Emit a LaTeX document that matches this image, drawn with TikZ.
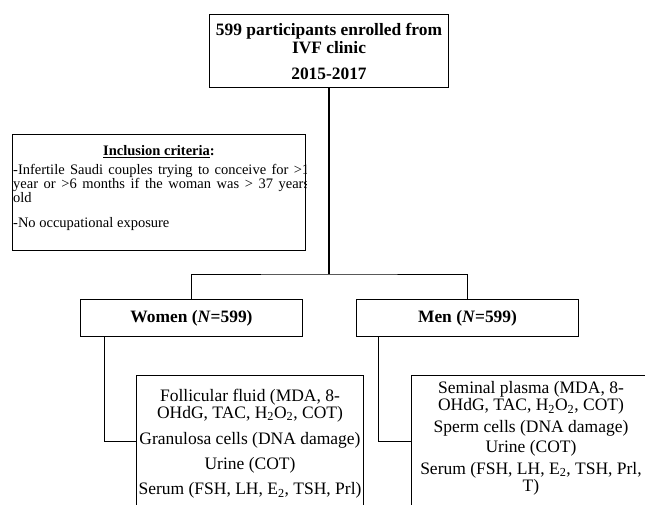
\documentclass[tikz,border=0pt]{standalone}
\usepackage{fontspec}
\setmainfont{Liberation Serif}
\usetikzlibrary{positioning}

\begin{document}
\begin{tikzpicture}[x=1pt,y=-1pt,
    box/.style={draw, line width=1pt, inner sep=0pt, anchor=north west},
    link/.style={draw, line width=0.8pt},
    bigbold/.style={font=\bfseries\fontsize{17.4}{18}\selectfont}]
    \useasboundingbox (0,0) rectangle (645,505);

 % Enrolment box
    \node[box, bigbold, minimum width=239pt, minimum height=73pt, align=center] (enrol) at (209,14)
        {599 participants enrolled from\\IVF clinic\\[8pt]2015-2017};

 % Inclusion criteria box (text runs a little past its right side)
    \node[box, minimum width=293pt, minimum height=116pt] (incl) at (12,134) {};
    \node[anchor=north, inner sep=0pt, font=\bfseries\fontsize{14.5}{12.5}\selectfont] (incltitle)
        at ([yshift=-11pt]incl.north) {\underline{Inclusion criteria}:};
    \begin{scope}
       \clip (incl.north west) rectangle (incl.south east); % hide the overflow
       \node[anchor=north west, inner sep=0pt, text width=296pt, align=justify,
             font=\fontsize{14.5}{12.5}\selectfont] (incltext) at ([xshift=1pt,yshift=-30pt]incl.north west)
           {-Infertile Saudi couples trying to conceive for >1 year or >6 months if the woman was > 37 years\linebreak old\\[12pt]-No occupational exposure};
    \end{scope}

 % Women and men
    \node[box, bigbold, minimum width=222pt, minimum height=37pt] (women) at (80,299) {Women (\textit{N}=599)};
    \node[box, bigbold, minimum width=222pt, minimum height=37pt] (men) at (356,299) {Men (\textit{N}=599)};

 % Sample boxes (cut by the lower edge)
    \node[box, minimum width=227pt, minimum height=132pt] (womsmp) at (136,375) {};
    \node[box, minimum width=239pt, minimum height=132pt] (mensmp) at (411,375) {};
    \node[anchor=north, inner sep=0pt, align=center, font=\fontsize{17.5}{16.5}\selectfont] (womtext)
        at ([yshift=-14pt]womsmp.north)
        {Follicular fluid (MDA, 8-\\OHdG, TAC, H\textsubscript{2}O\textsubscript{2}, COT)\\[10pt]%
         Granulosa cells (DNA damage)\\[8pt]Urine (COT)\\[9pt]Serum (FSH, LH, E\textsubscript{2}, TSH, Prl)};
    \node[anchor=north, inner sep=0pt, align=center, font=\fontsize{17.5}{17.5}\selectfont] (mentext)
        at ([yshift=-6pt]mensmp.north)
        {Seminal plasma (MDA, 8-\\OHdG, TAC, H\textsubscript{2}O\textsubscript{2}, COT)\\[4pt]%
         Sperm cells (DNA damage)\\[3pt]Urine (COT)\\[4pt]Serum (FSH, LH, E\textsubscript{2}, TSH, Prl,\\T)};

 % Connectors
    \path (enrol.south) ++(0,186) coordinate (split);
    \draw[link, line width=1.6pt] (enrol.south) -- (split);
    \draw[link] (women.north) |- (split) -| (men.north);
    \draw[link] ([xshift=24pt]women.south west) |- (womsmp.west);
    \draw[link] ([xshift=22pt]men.south west) |- (mensmp.west);

\end{tikzpicture}
\end{document}
